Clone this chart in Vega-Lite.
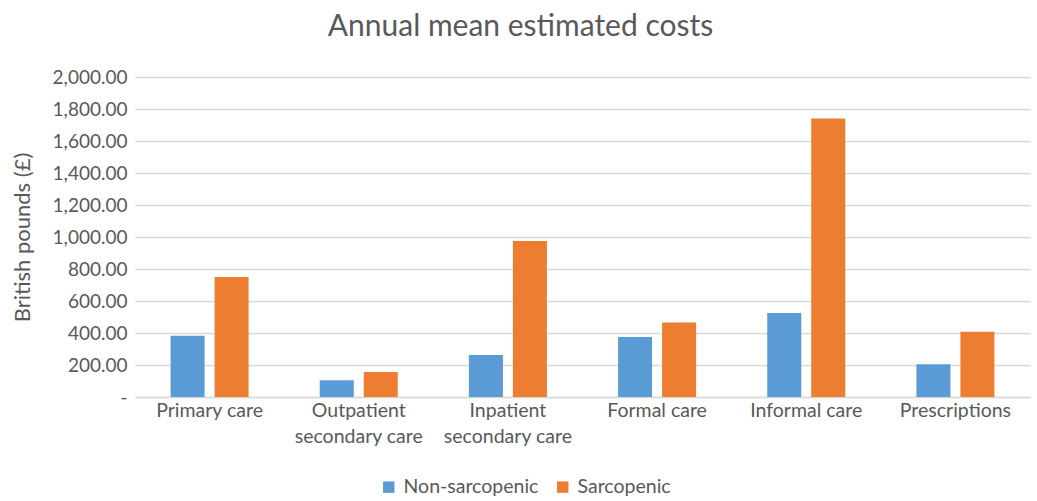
{
  "$schema": "https://vega.github.io/schema/vega-lite/v6.json",
  "autosize": {"type": "none"},
  "width": 895,
  "height": 320,
  "padding": {"left": 135, "top": 77, "right": 7, "bottom": 104},
  "background": "white",
  "config": {
    "view": {"stroke": null},
    "font": "Lato",
    "title": {"font": "Lato", "fontSize": 30, "fontWeight": "normal", "color": "#595959"}
  },
  "title": {
    "text": "Annual mean estimated costs",
    "anchor": "middle",
    "dx": -62,
    "offset": 26
  },
  "data": {
    "values": [
      {"category": "Primary care", "group": "Non-sarcopenic", "cost": 383},
      {"category": "Primary care", "group": "Sarcopenic", "cost": 750},
      {"category": "Outpatient secondary care", "group": "Non-sarcopenic", "cost": 104},
      {"category": "Outpatient secondary care", "group": "Sarcopenic", "cost": 156},
      {"category": "Inpatient secondary care", "group": "Non-sarcopenic", "cost": 262},
      {"category": "Inpatient secondary care", "group": "Sarcopenic", "cost": 975},
      {"category": "Formal care", "group": "Non-sarcopenic", "cost": 375},
      {"category": "Formal care", "group": "Sarcopenic", "cost": 466},
      {"category": "Informal care", "group": "Non-sarcopenic", "cost": 525},
      {"category": "Informal care", "group": "Sarcopenic", "cost": 1740},
      {"category": "Prescriptions", "group": "Non-sarcopenic", "cost": 204},
      {"category": "Prescriptions", "group": "Sarcopenic", "cost": 408}
    ]
  },
  "mark": {"type": "bar"},
  "encoding": {
    "x": {
      "field": "category",
      "type": "nominal",
      "sort": null,
      "scale": {"paddingInner": 0.477, "paddingOuter": 0.2385},
      "axis": {
        "title": null,
        "labelAngle": 0,
        "labelFont": "Lato",
        "labelFontSize": 19.5,
        "labelColor": "#595959",
        "labelPadding": 4,
        "labelLineHeight": 26,
        "labelBaseline": "top",
        "ticks": false,
        "domainColor": "#d9d9d9",
        "domainWidth": 1.5,
        "labelExpr": "indexof(datum.label, ' secondary care') > 0 ? [replace(datum.label, ' secondary care', ''), 'secondary care'] : datum.label"
      }
    },
    "xOffset": {
      "field": "group",
      "type": "nominal",
      "scale": {"paddingInner": 0.227, "paddingOuter": 0}
    },
    "y": {
      "field": "cost",
      "type": "quantitative",
      "scale": {"domain": [0, 2000], "nice": false},
      "axis": {
        "title": "British pounds (£)",
        "titleFont": "Lato",
        "titleFontSize": 22,
        "titleFontWeight": "normal",
        "titleColor": "#595959",
        "titlePadding": 18,
        "values": [0, 200, 400, 600, 800, 1000, 1200, 1400, 1600, 1800, 2000],
        "labelExpr": "datum.value == 0 ? '-' : format(datum.value, ',.2f')",
        "labelFont": "Lato",
        "labelFontSize": 19,
        "labelColor": "#595959",
        "labelPadding": 8,
        "ticks": false,
        "domain": false,
        "grid": true,
        "gridColor": "#d9d9d9",
        "gridWidth": 1.5
      }
    },
    "color": {
      "field": "group",
      "type": "nominal",
      "scale": {"domain": ["Non-sarcopenic", "Sarcopenic"], "range": ["#5b9bd5", "#ed7d31"]},
      "legend": {
        "title": null,
        "orient": "none",
        "direction": "horizontal",
        "legendX": 244,
        "legendY": 400,
        "symbolType": "square",
        "symbolSize": 130,
        "symbolStrokeWidth": 0,
        "labelFont": "Lato",
        "labelFontSize": 19.5,
        "labelColor": "#595959",
        "labelOffset": 5,
        "columnPadding": 14
      }
    }
  }
}
